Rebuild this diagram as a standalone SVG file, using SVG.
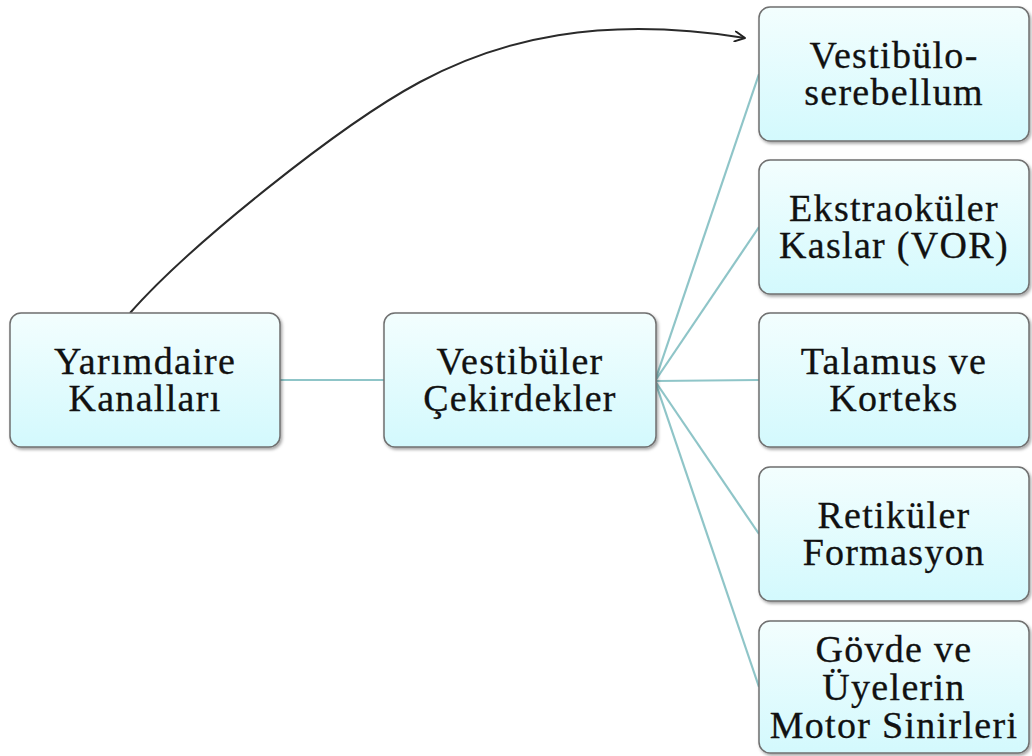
<svg xmlns="http://www.w3.org/2000/svg" width="1032" height="756" viewBox="0 0 1032 756">
  <defs>
    <linearGradient id="boxfill" x1="0" y1="0" x2="0" y2="1">
      <stop offset="0" stop-color="#f3fefe"/>
      <stop offset="1" stop-color="#d3f9fd"/>
    </linearGradient>
    <filter id="shadow" x="-10%" y="-10%" width="120%" height="130%">
      <feDropShadow dx="1.5" dy="2" stdDeviation="1.5" flood-color="#000" flood-opacity="0.35"/>
    </filter>
    <marker id="arrow" viewBox="0 0 12 12" refX="11" refY="6" markerWidth="12" markerHeight="12" markerUnits="userSpaceOnUse" orient="auto">
      <path d="M1,1 L11,6 L1,11" fill="none" stroke="#222" stroke-width="2" stroke-linecap="round" stroke-linejoin="round"/>
    </marker>
    <style>
      .box { fill: url(#boxfill); stroke: #6f6f6f; stroke-width: 1.5; filter: url(#shadow); }
      .lbl { font-family: "Liberation Serif", "Times New Roman", serif; font-size: 38px; fill: #111; stroke: #111; stroke-width: 0.3; text-anchor: middle; letter-spacing: 1.3px; }
      .tree { stroke: #8fc5c8; stroke-width: 2.2; fill: none; }
      .curve { stroke: #2a2a2a; stroke-width: 2; fill: none; }
    </style>
  </defs>
  <rect width="1032" height="756" fill="#ffffff"/>

  <g id="connectors">
    <line class="tree" x1="280" y1="380" x2="384" y2="380"/>
    <line class="tree" x1="655" y1="381" x2="759" y2="74"/>
    <line class="tree" x1="655" y1="381" x2="759" y2="227"/>
    <line class="tree" x1="655" y1="381" x2="759" y2="380"/>
    <line class="tree" x1="655" y1="381" x2="759" y2="534"/>
    <line class="tree" x1="655" y1="381" x2="759" y2="687"/>
    <path class="curve" d="M130,313 C190,245 340,125 420,82 S600,15 745,38" marker-end="url(#arrow)"/>
  </g>

  <g id="node-yarimdaire">
    <rect class="box" x="10" y="313" width="270" height="134" rx="11"/>
    <text class="lbl" x="145" y="374">Yarımdaire</text>
    <text class="lbl" x="145" y="411">Kanalları</text>
  </g>

  <g id="node-vestibuler">
    <rect class="box" x="384" y="313" width="272" height="134" rx="11"/>
    <text class="lbl" x="520" y="374">Vestibüler</text>
    <text class="lbl" x="520" y="411">Çekirdekler</text>
  </g>

  <g id="node-serebellum">
    <rect class="box" x="759" y="7" width="270" height="134" rx="11"/>
    <text class="lbl" x="894" y="68">Vestibülo-</text>
    <text class="lbl" x="894" y="105">serebellum</text>
  </g>

  <g id="node-ekstraokuler">
    <rect class="box" x="759" y="160" width="270" height="134" rx="11"/>
    <text class="lbl" x="894" y="221">Ekstraoküler</text>
    <text class="lbl" x="894" y="258">Kaslar (VOR)</text>
  </g>

  <g id="node-talamus">
    <rect class="box" x="759" y="313" width="270" height="134" rx="11"/>
    <text class="lbl" x="894" y="374">Talamus ve</text>
    <text class="lbl" x="894" y="411">Korteks</text>
  </g>

  <g id="node-retikuler">
    <rect class="box" x="759" y="467" width="270" height="134" rx="11"/>
    <text class="lbl" x="894" y="528">Retiküler</text>
    <text class="lbl" x="894" y="565">Formasyon</text>
  </g>

  <g id="node-motor">
    <rect class="box" x="759" y="621" width="270" height="132" rx="11"/>
    <text class="lbl" x="894" y="662">Gövde ve</text>
    <text class="lbl" x="894" y="700">Üyelerin</text>
    <text class="lbl" x="894" y="738">Motor Sinirleri</text>
  </g>
</svg>
